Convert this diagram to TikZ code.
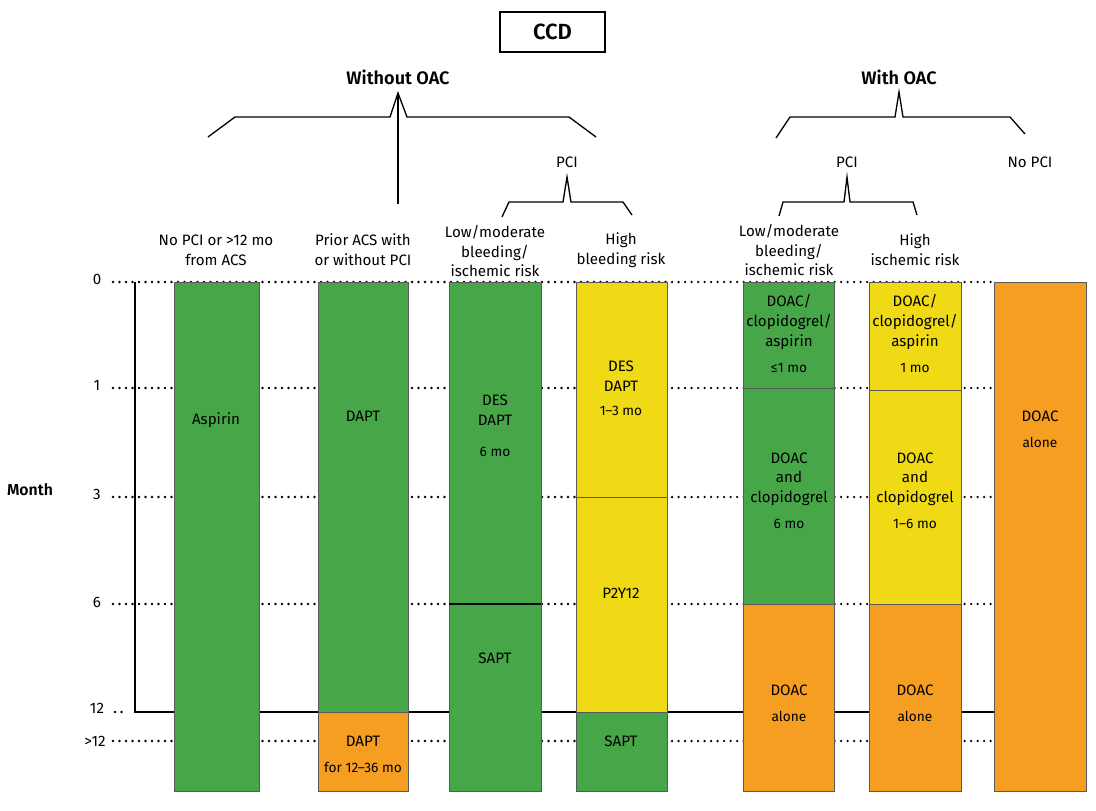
\documentclass[tikz,border=0pt]{standalone}
\usepackage{fontspec}
\setmainfont{Fira Sans}
\IfFontExistsTF{Fira Sans SemiBold}
  {\newfontfamily\semib{Fira Sans SemiBold}}
  {\IfFontExistsTF{FiraSans-SemiBold.otf}
    {\newfontfamily\semib{FiraSans-SemiBold.otf}}
    {\newfontfamily\semib{Fira Sans}[UprightFeatures={FakeBold=0.6}]}}
\definecolor{cgreen}{RGB}{71,166,72}
\definecolor{cyellow}{RGB}{240,218,22}
\definecolor{corange}{RGB}{246,158,34}
\begin{document}
\begin{tikzpicture}[x=0.02cm,y=-0.02cm,
  txt/.style={font=\fontsize{8.6pt}{11.2pt}\selectfont, align=center, inner sep=0pt},
  small/.style={font=\fontsize{7.8pt}{9pt}\selectfont, align=center, inner sep=0pt},
  head/.style={font=\semib\fontsize{10.3pt}{12pt}\selectfont, inner sep=0pt},
  bar/.style={draw=black!65, line width=0.4pt},
  dots/.style={line width=1.5pt, line cap=round, dash pattern=on 0pt off 3.7pt},
  brace/.style={line width=0.75pt, line join=miter},
  axis/.style={line width=1.1pt}]
\useasboundingbox (0,0) rectangle (1096,811);

% title
\node[draw, line width=1.1pt, minimum width=2.1cm, minimum height=0.8cm,
  font=\semib\fontsize{12.5pt}{14pt}\selectfont] (ccd) at (552.5,32) {CCD};

% group labels
\node[head] (wo) at (398,77) {Without OAC};
\node[head] (wi) at (899,77) {With OAC};
\node[txt] (pci1) at (567,162) {PCI};
\node[txt] (pci2) at (847,162) {PCI};
\node[txt] (nopci) at (1030,162) {No PCI};

% braces
\coordinate (wopk) at (398,93);
\coordinate (wobot) at (398,204);
\draw[brace] (208,137) -- (235,117) -- (390,117) -- (wopk) -- (407,117) -- (569,117) -- (596,137);
\draw[axis] (wopk) -- (wobot);
\draw[brace] (776,138) -- (790,117) -- (895,117) -- (899,92) -- (903,117) -- (1010,117) -- (1025,134);
\draw[brace] (502,217) -- (509,202) -- (563,202) -- (567,177) -- (571,202) -- (623,202) -- (632,215);
\draw[brace] (779,216) -- (783,202) -- (844,202) -- (847,177) -- (850,202) -- (913,202) -- (917,215);

% column headers
\node[txt] (h1) at (216,250) {No PCI or >12 mo\\from ACS};
\node[txt] (h2) at (363,250) {Prior ACS with\\or without PCI};
\node[txt] (h3) at (495,251) {Low/moderate\\bleeding/\\ischemic risk};
\node[txt] (h4) at (621,250) {High\\bleeding risk};
\node[txt] (h5) at (789,250) {Low/moderate\\bleeding/\\ischemic risk};
\node[txt] (h6) at (915,250) {High\\ischemic risk};

% axis labels
\node[txt] (m0) at (97,279) {0};
\node[txt] (m1) at (97,385) {1};
\node[txt] (m3) at (97,494) {3};
\node[txt] (m6) at (97,602) {6};
\node[txt] (m12) at (97,708) {12};
\node[txt] (m13) at (95,741) {>12};
\node[txt, font=\semib\fontsize{9pt}{11pt}\selectfont] (month) at (30,490) {Month};

% dotted guide lines
\foreach \yy in {282,388,497,604,741} \draw[dots] (113,\yy) -- (994,\yy);
\draw[dots] (115,712) -- (126,712);
\draw[axis] (135,282) -- (135,712) -- (994,712);

% column 1
\draw[bar, fill=cgreen] (174,282) rectangle (259,791);
\node[txt] (c1a) at (216,420) {Aspirin};

% column 2
\draw[bar, fill=cgreen] (318,282) rectangle (408,712);
\draw[bar, fill=corange] (318,712) rectangle (408,791);
\node[txt] (c2a) at (363,416) {DAPT};
\node[txt] (c2b) at (363,741) {DAPT};
\node[small] (c2c) at (363,767) {for 12–36 mo};

% column 3
\draw[bar, fill=cgreen] (449,282) rectangle (541,604);
\draw[bar, fill=cgreen] (449,604) rectangle (541,791);
\draw[line width=0.6pt] (449,604) -- (541,604);
\node[txt] (c3a) at (495,410) {DES\\DAPT};
\node[small] (c3b) at (495,452) {6 mo};
\node[txt] (c3c) at (495,658) {SAPT};

% column 4
\draw[bar, fill=cyellow] (576,282) rectangle (667,497);
\draw[bar, fill=cyellow] (576,497) rectangle (667,712);
\draw[bar, fill=cgreen] (576,712) rectangle (667,791);
\node[txt] (c4a) at (621,376) {DES\\DAPT};
\node[small] (c4b) at (621,411) {1–3 mo};
\node[txt] (c4c) at (621,593) {P2Y12};
\node[txt] (c4d) at (621,741) {SAPT};

% column 5
\draw[bar, fill=cgreen] (743,282) rectangle (834,388);
\draw[bar, fill=cgreen] (743,388) rectangle (834,604);
\draw[bar, fill=corange] (743,604) rectangle (834,791);
\node[txt] (c5a) at (789,322) {DOAC/\\clopidogrel/\\aspirin};
\node[small] (c5b) at (789,368) {≤1 mo};
\node[txt] (c5c) at (789,479) {DOAC\\and\\clopidogrel};
\node[small] (c5d) at (789,524) {6 mo};
\node[txt] (c5e) at (789,690) {DOAC};
\node[small] (c5f) at (789,716) {alone};

% column 6
\draw[bar, fill=cyellow] (869,282) rectangle (961,390);
\draw[bar, fill=cyellow] (869,390) rectangle (961,604);
\draw[bar, fill=corange] (869,604) rectangle (961,791);
\node[txt] (c6a) at (915,322) {DOAC/\\clopidogrel/\\aspirin};
\node[small] (c6b) at (915,368) {1 mo};
\node[txt] (c6c) at (915,479) {DOAC\\and\\clopidogrel};
\node[small] (c6d) at (915,524) {1–6 mo};
\node[txt] (c6e) at (915,690) {DOAC};
\node[small] (c6f) at (915,716) {alone};

% column 7
\draw[bar, fill=corange] (994,282) rectangle (1086,791);
\node[txt] (c7a) at (1040,416) {DOAC};
\node[small] (c7b) at (1040,442) {alone};
\end{tikzpicture}
\end{document}
